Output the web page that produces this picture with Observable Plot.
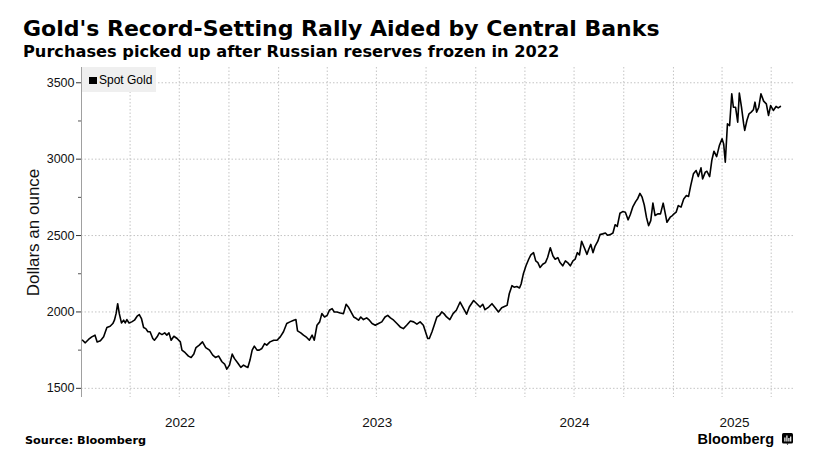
<!DOCTYPE html>
<html>
<head>
<meta charset="utf-8">
<script src="https://cdn.jsdelivr.net/npm/d3@7"></script>
<script src="https://cdn.jsdelivr.net/npm/@observablehq/plot@0.6"></script>
<style>
  html, body { margin: 0; padding: 0; background: #fff; }
  #wrap { position: relative; width: 826px; height: 474px; overflow: hidden; background: #fff; }
  .title { position: absolute; left: 23px; top: 18.1px; font: bold 22px/1 "DejaVu Sans", sans-serif; color: #000; white-space: nowrap; }
  .subtitle { position: absolute; left: 23px; top: 43.6px; font: bold 16.2px/1 "DejaVu Sans", sans-serif; color: #000; white-space: nowrap; }
  #chart { position: absolute; left: 0; top: 60px; }
  .legend { position: absolute; left: 82px; top: 67px; width: 74px; height: 25px; background: #efefef; }
  .legend .sw { position: absolute; left: 7px; top: 10px; width: 8px; height: 7px; background: #000; }
  .legend .lab { position: absolute; left: 17px; top: 6.5px; font: 12px/1 "Liberation Sans", Arial, sans-serif; color: #000; white-space: nowrap; }
  .source { position: absolute; left: 25px; top: 435px; font: bold 11.25px/1 "DejaVu Sans", sans-serif; color: #000; white-space: nowrap; }
  .brand { position: absolute; left: 697.5px; top: 431.7px; font: bold 14.5px/1 "Liberation Sans", Arial, sans-serif; color: #000; white-space: nowrap; }
  .brand-icon { position: absolute; left: 782px; top: 433px; }
</style>
</head>
<body>
<div id="wrap">
  <div class="title">Gold's Record-Setting Rally Aided by Central Banks</div>
  <div class="subtitle">Purchases picked up after Russian reserves frozen in 2022</div>
  <div id="chart"></div>
  <div class="legend"><div class="sw"></div><div class="lab">Spot Gold</div></div>
  <div class="source">Source: Bloomberg</div>
  <div class="brand">Bloomberg</div>
  <svg class="brand-icon" width="11" height="12" viewBox="0 0 11 12">
    <rect x="0" y="0" width="11" height="10.5" rx="1.5" fill="#000"/>
    <path d="M4.5 10.5 L5.5 12 L6.5 10.5 Z" fill="#000"/>
    <rect x="2.3" y="4.5" width="1.2" height="4" fill="#fff"/>
    <rect x="4.3" y="2.5" width="1.2" height="6" fill="#fff"/>
    <rect x="6.3" y="5" width="1.2" height="3.5" fill="#fff"/>
    <rect x="8.1" y="3.5" width="1.2" height="5" fill="#fff"/>
  </svg>
</div>
<script>
// ---- Data: Spot gold, dollars an ounce ----
const gold2022 = [
  ["2022-01-03",1815],["2022-01-08",1798],["2022-01-14",1820],["2022-01-20",1837],["2022-01-26",1848],
  ["2022-01-30",1804],["2022-02-05",1811],["2022-02-11",1837],["2022-02-17",1898],["2022-02-23",1906],
  ["2022-02-28",1924],["2022-03-03",1946],["2022-03-06",1989],["2022-03-09",2054],["2022-03-12",1989],
  ["2022-03-16",1928],["2022-03-20",1946],["2022-03-23",1928],["2022-03-26",1950],["2022-03-30",1928],
  ["2022-04-04",1935],["2022-04-09",1946],["2022-04-14",1972],["2022-04-18",1983],["2022-04-22",1957],
  ["2022-04-26",1898],["2022-04-30",1891],["2022-05-04",1870],["2022-05-08",1870],["2022-05-13",1826],
  ["2022-05-16",1815],["2022-05-21",1837],["2022-05-25",1863],["2022-05-30",1852],["2022-06-04",1863],
  ["2022-06-08",1848],["2022-06-12",1863],["2022-06-16",1815],["2022-06-21",1841],["2022-06-27",1826],
  ["2022-07-03",1804],["2022-07-06",1750],["2022-07-12",1733],["2022-07-18",1711],["2022-07-23",1702],
  ["2022-07-28",1724],["2022-08-01",1767],["2022-08-07",1783],["2022-08-13",1804],["2022-08-19",1767],
  ["2022-08-26",1750],["2022-09-01",1717],["2022-09-06",1702],["2022-09-12",1711],["2022-09-18",1674],
  ["2022-09-23",1659],["2022-09-27",1626],["2022-10-02",1652],["2022-10-07",1724],["2022-10-11",1696],
  ["2022-10-18",1663],["2022-10-23",1637],["2022-10-28",1652],["2022-11-02",1641],["2022-11-05",1637],
  ["2022-11-09",1685],["2022-11-13",1750],["2022-11-17",1776],["2022-11-22",1750],["2022-11-26",1750],
  ["2022-12-01",1761],["2022-12-06",1793],["2022-12-10",1783],["2022-12-16",1804],["2022-12-23",1815],
  ["2022-12-29",1815]
];
const gold2023 = [
  ["2023-01-04",1837],["2023-01-10",1870],["2023-01-16",1924],["2023-01-22",1935],["2023-01-29",1946],
  ["2023-02-02",1950],["2023-02-05",1876],["2023-02-11",1863],["2023-02-16",1848],["2023-02-22",1833],
  ["2023-02-27",1815],["2023-03-04",1848],["2023-03-08",1815],["2023-03-13",1913],["2023-03-18",1935],
  ["2023-03-22",1989],["2023-03-27",1967],["2023-04-01",1978],["2023-04-05",2011],["2023-04-10",2022],
  ["2023-04-14",2000],["2023-04-19",2000],["2023-04-25",1993],["2023-05-01",1989],["2023-05-06",2050],
  ["2023-05-10",2033],["2023-05-15",2000],["2023-05-20",1967],["2023-05-25",1957],["2023-05-29",1946],
  ["2023-06-02",1967],["2023-06-07",1950],["2023-06-13",1961],["2023-06-18",1946],["2023-06-23",1924],
  ["2023-06-29",1913],["2023-07-05",1924],["2023-07-11",1935],["2023-07-17",1967],["2023-07-22",1978],
  ["2023-07-27",1961],["2023-08-02",1946],["2023-08-08",1924],["2023-08-14",1902],["2023-08-20",1891],
  ["2023-08-26",1913],["2023-09-02",1941],["2023-09-08",1935],["2023-09-14",1920],["2023-09-20",1935],
  ["2023-09-26",1913],["2023-09-29",1880],["2023-10-04",1826],["2023-10-07",1826],["2023-10-12",1870],
  ["2023-10-16",1913],["2023-10-21",1967],["2023-10-26",1978],["2023-10-30",2000],["2023-11-03",1989],
  ["2023-11-08",1967],["2023-11-14",1950],["2023-11-20",1989],["2023-11-26",2011],["2023-12-03",2065],
  ["2023-12-08",2032],["2023-12-12",2006],["2023-12-15",1985],["2023-12-20",2032],["2023-12-28",2075]
];
const gold2024 = [
  ["2024-01-03",2054],["2024-01-09",2032],["2024-01-14",2050],["2024-01-18",2015],["2024-01-25",2032],
  ["2024-01-31",2054],["2024-02-06",2028],["2024-02-12",2000],["2024-02-18",2028],["2024-02-24",2037],
  ["2024-02-28",2043],["2024-03-03",2119],["2024-03-08",2172],["2024-03-12",2162],["2024-03-17",2166],
  ["2024-03-22",2157],["2024-03-25",2183],["2024-03-29",2248],["2024-04-03",2302],["2024-04-08",2345],
  ["2024-04-12",2373],["2024-04-17",2388],["2024-04-21",2334],["2024-04-25",2323],["2024-04-29",2291],
  ["2024-05-04",2312],["2024-05-09",2323],["2024-05-13",2356],["2024-05-18",2420],["2024-05-23",2366],
  ["2024-05-27",2345],["2024-06-01",2356],["2024-06-05",2323],["2024-06-10",2302],["2024-06-15",2334],
  ["2024-06-19",2323],["2024-06-24",2302],["2024-06-29",2334],["2024-07-03",2345],["2024-07-07",2388],
  ["2024-07-11",2373],["2024-07-15",2463],["2024-07-20",2420],["2024-07-25",2377],["2024-07-28",2409],
  ["2024-08-01",2442],["2024-08-05",2388],["2024-08-09",2431],["2024-08-14",2463],["2024-08-18",2506],
  ["2024-08-23",2511],["2024-08-28",2517],["2024-09-01",2502],["2024-09-06",2506],["2024-09-11",2517],
  ["2024-09-15",2571],["2024-09-19",2560],["2024-09-24",2646],["2024-09-29",2657],["2024-10-04",2652],
  ["2024-10-09",2603],["2024-10-13",2636],["2024-10-18",2690],["2024-10-23",2722],["2024-10-27",2743],
  ["2024-10-31",2776],["2024-11-04",2751],["2024-11-08",2700],["2024-11-12",2620],["2024-11-16",2565],
  ["2024-11-20",2598],["2024-11-24",2712],["2024-11-28",2631],["2024-12-03",2642],["2024-12-08",2642],
  ["2024-12-13",2712],["2024-12-17",2642],["2024-12-20",2587],["2024-12-26",2620],["2024-12-30",2631]
];
const gold2025 = [
  ["2025-01-02",2642],["2025-01-06",2653],["2025-01-10",2696],["2025-01-15",2686],["2025-01-20",2740],
  ["2025-01-25",2762],["2025-01-29",2756],["2025-02-02",2827],["2025-02-07",2904],["2025-02-12",2926],
  ["2025-02-16",2886],["2025-02-21",2943],["2025-02-24",2871],["2025-03-01",2915],["2025-03-04",2921],
  ["2025-03-09",2886],["2025-03-13",2991],["2025-03-17",3052],["2025-03-22",3017],["2025-03-27",3089],
  ["2025-04-01",3133],["2025-04-04",3100],["2025-04-07",2980],["2025-04-11",3231],["2025-04-15",3220],
  ["2025-04-19",3428],["2025-04-22",3340],["2025-04-26",3340],["2025-04-30",3242],["2025-05-03",3432],
  ["2025-05-07",3340],["2025-05-11",3231],["2025-05-13",3188],["2025-05-17",3253],["2025-05-21",3297],
  ["2025-05-25",3308],["2025-05-29",3323],["2025-06-01",3373],["2025-06-04",3308],["2025-06-08",3340],
  ["2025-06-12",3428],["2025-06-17",3380],["2025-06-22",3362],["2025-06-26",3286],["2025-06-30",3351],
  ["2025-07-05",3319],["2025-07-10",3345],["2025-07-14",3336],["2025-07-18",3345]
];

const yMajorTicks = [1500, 2000, 2500, 3000, 3500];
const yMinorTicks = [1750, 2250, 2750, 3250];
const yearLabels = [2022, 2023, 2024, 2025];
const xStart = "2022-01-01";
const xEnd = "2025-08-15";
const yLabel = "Dollars an ounce";

// ---- Build ----
const series = [...gold2022, ...gold2023, ...gold2024, ...gold2025]
  .map(([d, v]) => ({date: new Date(d + "T00:00:00Z"), price: v}));

const x0 = new Date(xStart + "T00:00:00Z");
const x1 = new Date(xEnd + "T00:00:00Z");

// year labels centred on each year's visible span
const yearTicks = yearLabels.map(yr => {
  const a = Math.max(+x0, Date.UTC(yr, 0, 1));
  const b = Math.min(+x1, Date.UTC(yr + 1, 0, 1));
  return new Date((a + b) / 2);
});
const quarterLines = d3.utcMonths(d3.utcMonth.offset(x0, 3), x1, 3);

const chart = Plot.plot({
  width: 826,
  height: 414,
  marginTop: 7,
  marginBottom: 77,
  marginLeft: 81,
  marginRight: 31,
  style: {fontFamily: "'Liberation Sans', Arial, sans-serif", background: "transparent", overflow: "visible"},
  x: {type: "utc", domain: [x0, x1]},
  y: {domain: [1440, 3600]},
  marks: [
    Plot.gridX(quarterLines, {stroke: "#c4c4c4", strokeOpacity: 1, strokeDasharray: "1.5,2"}),
    Plot.gridY(yMajorTicks, {stroke: "#c4c4c4", strokeOpacity: 1, strokeDasharray: "1.5,2"}),
    Plot.ruleX([x0], {stroke: "#a0a0a0", strokeWidth: 1}),
    Plot.axisY(yMajorTicks, {tickSize: 5, tickPadding: 2, fontSize: 12.5, label: null, stroke: "#333", fill: "#111",
      tickFormat: d => String(d)}),
    Plot.axisY(yMinorTicks, {tickSize: 3, tickFormat: () => "", label: null, stroke: "#555"}),
    Plot.text([yLabel], {frameAnchor: "left", rotate: -90, dx: -42.5, lineAnchor: "bottom", textAnchor: "middle", fontSize: 17, fill: "#111"}),
    Plot.axisX(yearTicks, {tickSize: 0, tickPadding: 20, fontSize: 13.5, label: null, fill: "#111",
      tickFormat: d => String(d.getUTCFullYear())}),
    Plot.lineY(series, {x: "date", y: "price", stroke: "#000", strokeWidth: 1.6, strokeLinejoin: "round"})
  ]
});
document.getElementById("chart").appendChild(chart);
</script>
</body>
</html>
